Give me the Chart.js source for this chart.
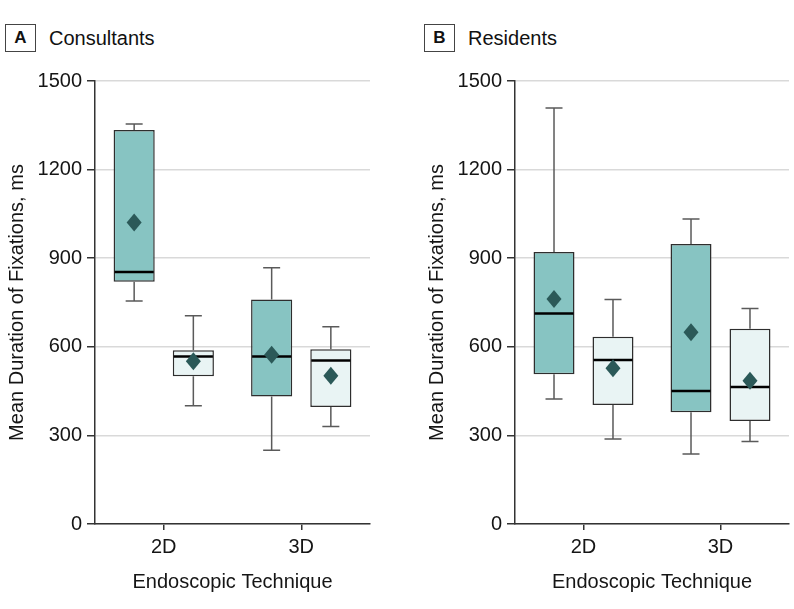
<!DOCTYPE html>
<html><head><meta charset="utf-8">
<script src="https://cdn.jsdelivr.net/npm/chart.js@4.4.1/dist/chart.umd.min.js"></script>
<style>
body{margin:0;background:#fff;width:794px;height:609px;overflow:hidden;position:relative;font-family:"Liberation Sans",Arial,sans-serif;}
canvas{position:absolute;top:0;}
#cA{left:0}
#cB{left:420px}
.tag{position:absolute;top:24px;width:31px;height:28px;box-sizing:border-box;border:1px solid #444;font-weight:bold;font-size:17px;text-align:center;line-height:26px;color:#111}
.ttl{position:absolute;top:26px;font-size:20px;line-height:24px;color:#111}
</style></head><body>
<div class="tag" style="left:5px">A</div><div class="ttl" style="left:49px">Consultants</div>
<div class="tag" style="left:424px">B</div><div class="ttl" style="left:468px">Residents</div>
<canvas id="cA" width="400" height="609"></canvas>
<canvas id="cB" width="374" height="609"></canvas>
<script>
// ---- data (ms) ----
const categories = ['2D', '3D'];
const yTickStep = 300;
const yMax = 1500;

// Panel A: Consultants
const consDarkMin    = [755, 250];
const consDarkQ1     = [820, 432];
const consDarkMedian = [853, 567];
const consDarkQ3     = [1334, 760];
const consDarkMax    = [1354, 868];
const consDarkMean   = [1021, 573];

const consLightMin    = [400, 330];
const consLightQ1     = [500, 396];
const consLightMedian = [567, 554];
const consLightQ3     = [588, 592];
const consLightMax    = [705, 668];
const consLightMean   = [551, 502];

// Panel B: Residents
const resDarkMin    = [423, 237];
const resDarkQ1     = [507, 378];
const resDarkMedian = [713, 450];
const resDarkQ3     = [921, 948];
const resDarkMax    = [1409, 1033];
const resDarkMean   = [762, 649];

const resLightMin    = [288, 279];
const resLightQ1     = [403, 349];
const resLightMedian = [555, 464];
const resLightQ3     = [634, 661];
const resLightMax    = [760, 730];
const resLightMean   = [527, 485];

// ---- styling ----
const FONT = '"Liberation Sans", Arial, sans-serif';
const TEXT = '#151515';
const AXIS = '#333333';

const boxPlugin = {
  id: 'boxExtras',
  afterDatasetsDraw(chart) {
    const ctx = chart.ctx, y = chart.scales.y;
    chart.data.datasets.forEach((ds, di) => {
      const meta = chart.getDatasetMeta(di);
      const s = ds.stats;
      meta.data.forEach((bar, i) => {
        const x = bar.x, w = bar.width, cap = 8.5;
        const pMin = y.getPixelForValue(s.min[i]);
        const pMax = y.getPixelForValue(s.max[i]);
        const pQ1 = y.getPixelForValue(s.q1[i]);
        const pQ3 = y.getPixelForValue(s.q3[i]);
        const pMed = y.getPixelForValue(s.median[i]);
        const pMean = y.getPixelForValue(s.mean[i]);
        ctx.save();
        ctx.strokeStyle = '#5a5a5a';
        ctx.lineWidth = 1.5;
        ctx.beginPath();
        ctx.moveTo(x, pQ3); ctx.lineTo(x, pMax);
        ctx.moveTo(x - cap, pMax); ctx.lineTo(x + cap, pMax);
        ctx.moveTo(x, pQ1); ctx.lineTo(x, pMin);
        ctx.moveTo(x - cap, pMin); ctx.lineTo(x + cap, pMin);
        ctx.stroke();
        ctx.strokeStyle = '#000';
        ctx.lineWidth = 2.5;
        ctx.beginPath();
        ctx.moveTo(x - w / 2 + 1, pMed); ctx.lineTo(x + w / 2 - 1, pMed);
        ctx.stroke();
        ctx.fillStyle = '#2b5958';
        ctx.beginPath();
        ctx.moveTo(x, pMean - 9);
        ctx.lineTo(x + 7.5, pMean);
        ctx.lineTo(x, pMean + 9);
        ctx.lineTo(x - 7.5, pMean);
        ctx.closePath();
        ctx.fill();
        ctx.restore();
      });
    });
  }
};

function pairs(a, b) { return a.map((v, i) => [v, b[i]]); }

function makePanel(id, dark, light, padRight) {
  const common = {
    borderColor: '#2e2e2e', borderWidth: 1.5, borderSkipped: false,
    categoryPercentage: 0.861, barPercentage: 0.695
  };
  return new Chart(document.getElementById(id), {
    type: 'bar',
    data: {
      labels: categories,
      datasets: [
        Object.assign({ data: pairs(dark.q1, dark.q3), backgroundColor: '#87c4c2', stats: dark }, common),
        Object.assign({ data: pairs(light.q1, light.q3), backgroundColor: '#e9f4f4', stats: light }, common)
      ]
    },
    options: {
      responsive: false, animation: false,
      layout: { padding: { top: 81, right: padRight, left: 0, bottom: 0 } },
      plugins: { legend: { display: false }, tooltip: { enabled: false } },
      scales: {
        x: {
          type: 'category', offset: true,
          grid: { display: true, offset: false, drawOnChartArea: false, drawTicks: true, tickLength: 6, tickColor: AXIS, lineWidth: 1.5 },
          border: { color: AXIS, width: 1.5 },
          ticks: { font: { size: 20, family: FONT }, color: TEXT, padding: 5 },
          title: { display: true, text: 'Endoscopic Technique', font: { size: 20, family: FONT }, color: TEXT, padding: { top: 4, bottom: 15 } },
          afterFit(s) { s.height = 85; }
        },
        y: {
          min: 0, max: yMax,
          ticks: { stepSize: yTickStep, font: { size: 20, family: FONT }, color: TEXT, padding: 5,
                   callback: (v) => String(v) },
          grid: { color: '#d9d9d9', lineWidth: 1.5, tickColor: AXIS, tickLength: 8 },
          border: { color: AXIS, width: 1.5 },
          title: { display: true, text: 'Mean Duration of Fixations, ms', font: { size: 20, family: FONT }, color: TEXT, padding: { top: 5 } },
          afterFit(s) { s.width = 95; }
        }
      }
    },
    plugins: [boxPlugin]
  });
}

makePanel('cA',
  { min: consDarkMin, q1: consDarkQ1, median: consDarkMedian, q3: consDarkQ3, max: consDarkMax, mean: consDarkMean },
  { min: consLightMin, q1: consLightQ1, median: consLightMedian, q3: consLightQ3, max: consLightMax, mean: consLightMean },
  30);
makePanel('cB',
  { min: resDarkMin, q1: resDarkQ1, median: resDarkMedian, q3: resDarkQ3, max: resDarkMax, mean: resDarkMean },
  { min: resLightMin, q1: resLightQ1, median: resLightMedian, q3: resLightQ3, max: resLightMax, mean: resLightMean },
  5);
</script>
</body></html>
